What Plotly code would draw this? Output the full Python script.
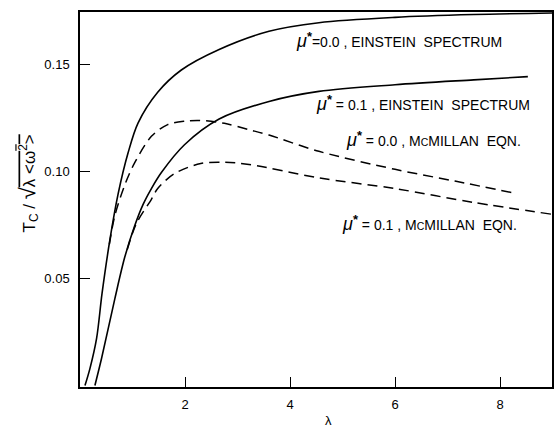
import plotly.graph_objects as go

# --- data ---
lam_e0 = [0.095, 0.19, 0.316, 0.42, 0.569, 0.726, 0.916, 1.105, 1.48, 1.93, 2.65, 3.6, 4.55, 6.0, 7.5, 8.99]
tc_e0 = [0.0, 0.008, 0.022, 0.043, 0.068, 0.0895, 0.1087, 0.1226, 0.137, 0.1474, 0.157, 0.1655, 0.1695, 0.172, 0.1733, 0.174]

lam_e1 = [0.284, 0.41, 0.663, 0.853, 1.04, 1.2, 1.36, 1.55, 1.99, 2.65, 3.6, 4.55, 6.0, 7.5, 8.53]
tc_e1 = [0.0, 0.0126, 0.0405, 0.060, 0.0745, 0.0845, 0.092, 0.0995, 0.1125, 0.1245, 0.1327, 0.1374, 0.1405, 0.1428, 0.1443]

lam_m0 = [0.56, 0.66, 0.85, 1.04, 1.36, 1.67, 2.0, 2.3, 2.75, 3.22, 3.6, 4.55, 6.0, 7.14, 8.25]
tc_m0 = [0.066, 0.079, 0.0935, 0.104, 0.1164, 0.1219, 0.1235, 0.1238, 0.1225, 0.1195, 0.117, 0.1094, 0.101, 0.0955, 0.090]

lam_m1 = [0.9, 1.07, 1.36, 1.48, 1.8, 2.3, 2.75, 3.22, 4.55, 6.0, 7.5, 8.99]
tc_m1 = [0.0635, 0.0755, 0.087, 0.092, 0.099, 0.1037, 0.1043, 0.1033, 0.097, 0.092, 0.0855, 0.080]

x_ticks = [2, 4, 6, 8]
x_tick_labels = ["2", "4", "6", "8"]
y_ticks = [0.05, 0.10, 0.15]
y_tick_labels = ["0.05", "0.10", "0.15"]

NB = "\u00a0"
MU = '<span style="font-size:18px"><i>μ</i></span><sup><span style="font-size:13px"><b>*</b></span></sup>'
MC = 'M<span style="font-size:10.5px">C</span>MILLAN'
labels = [
    MU + "=0.0 , EINSTEIN" + NB + NB + "SPECTRUM",
    MU + " = 0.1 , EINSTEIN" + NB + NB + "SPECTRUM",
    MU + " = 0.0 , " + MC + NB + NB + "EQN.",
    MU + " = 0.1 , " + MC + NB + NB + "EQN.",
]

FONT = "Liberation Sans, Arial, sans-serif"

fig = go.Figure()
line_solid = dict(color="black", width=1.6, shape="spline", smoothing=0.9)
line_dash = dict(color="black", width=1.5, shape="spline", smoothing=0.9, dash="10px,6px")
fig.add_trace(go.Scatter(x=lam_e0, y=tc_e0, mode="lines", line=line_solid))
fig.add_trace(go.Scatter(x=lam_e1, y=tc_e1, mode="lines", line=line_solid))
fig.add_trace(go.Scatter(x=lam_m0, y=tc_m0, mode="lines", line=line_dash))
fig.add_trace(go.Scatter(x=lam_m1, y=tc_m1, mode="lines", line=line_dash))

axis_common = dict(
    showgrid=False, zeroline=False, showline=True, linecolor="black", linewidth=1.5,
    mirror=True, ticks="inside", ticklen=10, tickwidth=1.2, tickcolor="black",
    tickfont=dict(family=FONT, size=13, color="black"),
)
fig.update_xaxes(range=[0, 8.99], tickvals=x_ticks, ticktext=x_tick_labels,
                 ticklabelstandoff=5, **axis_common)
fig.update_yaxes(range=[-0.0007, 0.1745], tickvals=y_ticks, ticktext=y_tick_labels,
                 ticklabelstandoff=6, **axis_common)

ann = []
pos = [(4.07, 0.1612), (4.45, 0.1319), (5.02, 0.1151), (4.96, 0.0757)]
for (ax_, ay_), t in zip(pos, labels):
    ann.append(dict(x=ax_, y=ay_, xref="x", yref="y", text=t, showarrow=False,
                    xanchor="left", yanchor="middle",
                    font=dict(family=FONT, size=14, color="black")))
ann.append(dict(x=0, y=0.5, xref="paper", yref="paper", xshift=-52, yshift=16,
                text='T<sub>C</sub>' + NB + '/' + NB + '<span style="font-size:22px">√</span>'
                     '<span style="text-decoration:overline">λ' + NB + '&lt;ω<sup>2</sup>&gt;</span>',
                textangle=-90, showarrow=False, xanchor="center", yanchor="middle",
                font=dict(family=FONT, size=17, color="black")))
ann.append(dict(x=0.526, y=0, xref="paper", yref="paper", yshift=-33,
                text="λ", showarrow=False, xanchor="center", yanchor="middle",
                font=dict(family=FONT, size=13, color="black")))

fig.update_layout(
    width=555, height=428, margin=dict(l=80, r=1, t=12, b=41),
    paper_bgcolor="white", plot_bgcolor="white", showlegend=False,
    annotations=ann,
)
fig.write_html("out.html")
